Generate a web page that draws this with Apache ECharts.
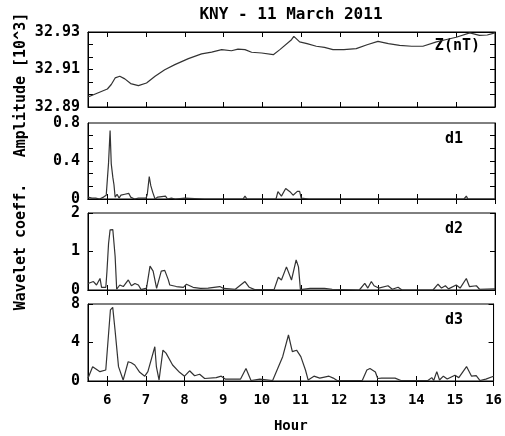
<!DOCTYPE html>
<html>
<head>
<meta charset="utf-8">
<script src="https://cdn.jsdelivr.net/npm/echarts@6/dist/echarts.min.js"></script>
<style>
  html, body { margin: 0; padding: 0; background: #fff; }
  #chart { width: 505px; height: 436px; }
</style>
</head>
<body>
<div id="chart"></div>
<script>
// hours and values
const zHours = [5.5, 5.75, 6.0, 6.1, 6.2, 6.32, 6.45, 6.6, 6.8, 7.01, 7.23, 7.48, 7.74, 8.09, 8.43, 8.69, 8.95, 9.2, 9.37, 9.55, 9.72, 9.98, 10.28, 10.45, 10.75, 10.81, 10.96, 11.15, 11.39, 11.6, 11.82, 12.1, 12.42, 12.7, 12.98, 13.25, 13.54, 13.85, 14.14, 14.49, 14.75, 15.0, 15.35, 15.6, 15.8, 16.0];
const zValues = [32.8953, 32.8975, 32.8996, 32.902, 32.9055, 32.9064, 32.905, 32.9025, 32.9014, 32.9028, 32.9064, 32.9099, 32.9126, 32.9158, 32.9183, 32.9193, 32.9206, 32.92, 32.9209, 32.9206, 32.9192, 32.9188, 32.9179, 32.9206, 32.9259, 32.9277, 32.9247, 32.9238, 32.9224, 32.9218, 32.9206, 32.9206, 32.9211, 32.9232, 32.925, 32.9238, 32.9229, 32.9224, 32.9224, 32.9247, 32.926, 32.9272, 32.9295, 32.9282, 32.9284, 32.9295];

const d1Hours = [5.5, 5.55, 5.6, 5.65, 5.7, 5.75, 5.8, 5.9, 5.97, 6.0, 6.03, 6.07, 6.1, 6.14, 6.17, 6.2, 6.25, 6.3, 6.35, 6.4, 6.45, 6.5, 6.55, 6.6, 6.65, 6.7, 6.8, 7.0, 7.03, 7.08, 7.12, 7.17, 7.23, 7.3, 7.35, 7.5, 7.55, 7.65, 7.7, 7.75, 8.0, 8.5, 9.5, 9.55, 9.6, 10.35, 10.4, 10.49, 10.6, 10.71, 10.79, 10.9, 10.96, 11.0, 11.2, 12.75, 12.8, 12.85, 15.2, 15.26, 15.3, 16.0];
const d1Values = [0.02, 0.04, 0.01, 0.03, 0.01, 0.03, 0.0, 0.02, 0.04, 0.02, 0.38, 0.72, 0.37, 0.23, 0.15, 0.02, 0.05, 0.01, 0.04, 0.02, 0.05, 0.03, 0.06, 0.02, 0.03, 0.0, 0.01, 0.01, 0.05, 0.235, 0.14, 0.07, 0.0, 0.02, 0.03, 0.03, 0.0, 0.01, 0.03, 0.0, 0.01, 0.0, 0.0, 0.03, 0.0, 0.0, 0.077, 0.03, 0.11, 0.077, 0.04, 0.08, 0.08, 0.01, 0.0, 0.0, 0.02, 0.0, 0.0, 0.03, 0.0, 0.0];

const d2Hours = [5.5, 5.53, 5.64, 5.72, 5.81, 5.85, 5.96, 5.99, 6.03, 6.07, 6.14, 6.2, 6.24, 6.32, 6.41, 6.54, 6.62, 6.71, 6.8, 6.87, 7.01, 7.1, 7.18, 7.27, 7.39, 7.48, 7.57, 7.61, 7.78, 7.96, 8.04, 8.21, 8.4, 8.6, 8.9, 9.0, 9.3, 9.55, 9.66, 9.8, 10.3, 10.41, 10.49, 10.62, 10.75, 10.87, 10.93, 10.98, 11.23, 11.6, 11.8, 12.5, 12.64, 12.72, 12.81, 12.88, 13.0, 13.24, 13.35, 13.5, 13.6, 14.4, 14.53, 14.62, 14.72, 14.8, 15.0, 15.1, 15.26, 15.34, 15.52, 15.6, 16.0];
const d2Values = [0.17, 0.2, 0.22, 0.13, 0.3, 0.07, 0.07, 0.5, 1.2, 1.56, 1.57, 0.87, 0.02, 0.13, 0.09, 0.26, 0.11, 0.17, 0.13, 0.01, 0.05, 0.62, 0.49, 0.04, 0.49, 0.51, 0.27, 0.13, 0.09, 0.07, 0.15, 0.07, 0.04, 0.05, 0.09, 0.04, 0.02, 0.22, 0.07, 0.01, 0.01, 0.33, 0.26, 0.6, 0.26, 0.78, 0.6, 0.01, 0.04, 0.04, 0.02, 0.0, 0.17, 0.05, 0.22, 0.11, 0.05, 0.11, 0.02, 0.07, 0.0, 0.0, 0.15, 0.05, 0.11, 0.03, 0.13, 0.05, 0.3, 0.09, 0.11, 0.02, 0.03];

const d3Hours = [5.5, 5.62, 5.81, 5.96, 5.99, 6.08, 6.14, 6.2, 6.29, 6.41, 6.54, 6.62, 6.71, 6.84, 6.97, 7.05, 7.23, 7.27, 7.34, 7.44, 7.52, 7.69, 7.87, 8.0, 8.13, 8.26, 8.39, 8.52, 8.82, 8.95, 9.05, 9.45, 9.59, 9.72, 9.95, 10.28, 10.54, 10.69, 10.79, 10.9, 11.01, 11.13, 11.2, 11.35, 11.5, 11.74, 11.85, 11.95, 12.6, 12.72, 12.8, 12.94, 13.0, 13.1, 13.45, 13.6, 14.3, 14.4, 14.45, 14.53, 14.6, 14.7, 14.8, 15.0, 15.1, 15.3, 15.43, 15.55, 15.65, 15.8, 16.0];
const d3Values = [0.28, 1.49, 0.97, 1.14, 1.3, 7.38, 7.65, 5.3, 1.49, 0.1, 2.0, 1.9, 1.66, 0.9, 0.5, 0.97, 3.56, 1.5, 0.1, 3.2, 2.9, 1.66, 0.9, 0.5, 1.06, 0.55, 0.7, 0.26, 0.35, 0.5, 0.2, 0.2, 1.3, 0.05, 0.2, 0.05, 2.53, 4.78, 3.05, 3.2, 2.53, 1.14, 0.1, 0.5, 0.3, 0.5, 0.3, 0.05, 0.05, 1.14, 1.3, 0.93, 0.26, 0.3, 0.3, 0.05, 0.05, 0.35, 0.05, 0.97, 0.1, 0.5, 0.2, 0.6, 0.35, 1.5, 0.5, 0.55, 0.05, 0.2, 0.5];

const hourTicks = [6, 7, 8, 9, 10, 11, 12, 13, 14, 15, 16];
const zTickLabels = [32.89, 32.91, 32.93];
const d1TickLabels = [0, 0.4, 0.8];
const d2TickLabels = [0, 1, 2];
const d3TickLabels = [0, 4, 8];
const panelNames = ['Z(nT)', 'd1', 'd2', 'd3'];

const FONT = 'DejaVu Sans Mono';
const LINE = '#333';

function zip(xs, ys) { return xs.map((x, i) => [x, ys[i]]); }
// minor tick marks split each labelled range into 6 steps
function steps(lo, hi, n) {
    const out = [];
    for (let k = 0; k <= n; k++) out.push(lo + (hi - lo) * k / n);
    return out;
}

const panels = [
    { top: 32, height: 75, data: zip(zHours, zValues), labels: zTickLabels,
      ticks: steps(32.89, 32.93, 6), fmt: v => v.toFixed(2) },
    { top: 123, height: 76, data: zip(d1Hours, d1Values), labels: d1TickLabels,
      ticks: steps(0, 0.8, 6), fmt: v => String(v) },
    { top: 213, height: 77, data: zip(d2Hours, d2Values), labels: d2TickLabels,
      ticks: d2TickLabels, fmt: v => String(v) },
    { top: 304, height: 77, data: zip(d3Hours, d3Values), labels: d3TickLabels,
      ticks: d3TickLabels, fmt: v => String(v) }
];

const xLabelStyle = { fontFamily: FONT, fontWeight: 'bold', fontSize: 14, color: '#000' };
const yLabelStyle = { fontFamily: FONT, fontWeight: 'bold', fontSize: 15, color: '#000' };
const grids = [], xAxes = [], yAxes = [], series = [];

panels.forEach((p, i) => {
    const lo = p.labels[0], hi = p.labels[p.labels.length - 1];
    grids.push({ left: 88, right: 10, top: p.top, height: p.height,
                 show: true, borderColor: '#000', borderWidth: 1 });
    ['bottom', 'top'].forEach(pos => {
        const showLab = pos === 'bottom' && i === 3;
        xAxes.push({
            type: 'value', gridIndex: i, position: pos, min: 5.5, max: 16,
            axisLine: { show: true, lineStyle: { color: '#000' } },
            axisTick: { inside: true, length: 5, customValues: hourTicks, lineStyle: { color: '#000' } },
            axisLabel: Object.assign({ show: showLab, margin: 12, customValues: hourTicks }, xLabelStyle),
            splitLine: { show: false },
            name: showLab ? 'Hour' : '',
            nameLocation: 'middle', nameGap: 38,
            nameTextStyle: xLabelStyle
        });
    });
    ['left', 'right'].forEach(pos => {
        yAxes.push({
            type: 'value', gridIndex: i, position: pos, min: lo, max: hi,
            axisLine: { show: true, lineStyle: { color: '#000' } },
            axisTick: { inside: true, length: 5, customValues: p.ticks, lineStyle: { color: '#000' } },
            axisLabel: Object.assign({ show: pos === 'left', margin: 8, customValues: p.labels,
                                       formatter: p.fmt }, yLabelStyle),
            splitLine: { show: false }
        });
    });
    series.push({
        type: 'line', name: panelNames[i], xAxisIndex: 2 * i, yAxisIndex: 2 * i,
        data: p.data, showSymbol: false, symbol: 'none',
        lineStyle: { color: LINE, width: 1.2 }, silent: true
    });
});

function label(text, x, y, align, size, rot) {
    return {
        type: 'text', x: x, y: y, rotation: rot || 0,
        style: { text: text, fill: '#000', align: align, verticalAlign: 'middle',
                 fontFamily: FONT, fontWeight: 'bold', fontSize: size }
    };
}

const chart = echarts.init(document.getElementById('chart'));
chart.setOption({
    animation: false,
    backgroundColor: '#fff',
    grid: grids,
    xAxis: xAxes,
    yAxis: yAxes,
    series: series,
    graphic: [
        label('KNY - 11 March 2011', 291, 15, 'center', 16),
        label('Amplitude [10^3]', 21, 85, 'center', 15, Math.PI / 2),
        label('Wavelet coeff.', 21, 247, 'center', 15, Math.PI / 2),
        label(panelNames[0], 480, 46, 'right', 15),
        label(panelNames[1], 463, 139, 'right', 15),
        label(panelNames[2], 463, 229, 'right', 15),
        label(panelNames[3], 463, 320, 'right', 15)
    ]
});
</script>
</body>
</html>
